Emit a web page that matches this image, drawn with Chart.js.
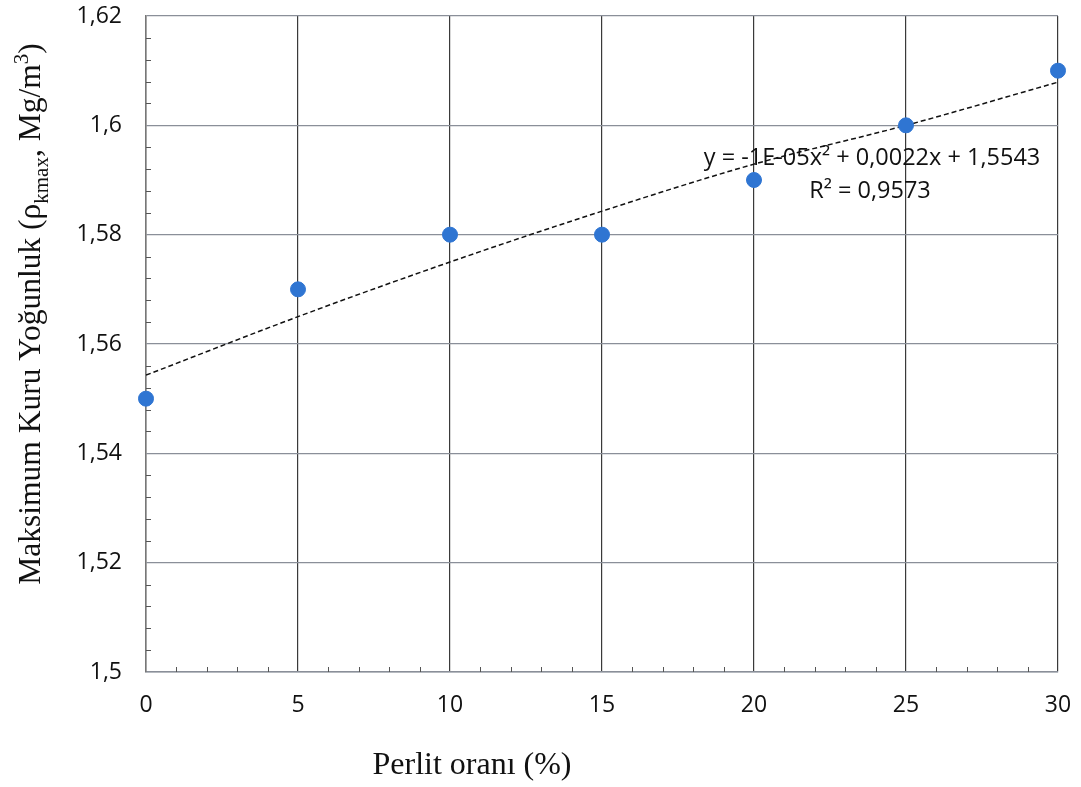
<!DOCTYPE html>
<html>
<head>
<meta charset="utf-8">
<script src="https://cdn.jsdelivr.net/npm/chart.js@4/dist/chart.umd.min.js"></script>
<style>
html,body{margin:0;padding:0;background:#fff;}
#wrap{width:1081px;height:787px;position:relative;}
</style>
</head>
<body>
<div id="wrap"><canvas id="c" width="1081" height="787"></canvas></div>
<script>
// ---- data ----
const perlitRatio = [0, 5, 10, 15, 20, 25, 30];
const maxDryDensity = [1.55, 1.57, 1.58, 1.58, 1.59, 1.60, 1.61];
// trendline values
const trendX = [0, 5, 10, 15, 20, 25, 30];
const trendY = [1.5543, 1.565, 1.575, 1.5843, 1.5929, 1.600, 1.6079];
const yTickLabels = ['1,5', '1,52', '1,54', '1,56', '1,58', '1,6', '1,62'];
const xTickLabels = ['0', '5', '10', '15', '20', '25', '30'];
const equationText = 'y = -1E-05x² + 0,0022x + 1,5543';
const r2Text = 'R² = 0,9573';
const xTitle = 'Perlit oranı (%)';

const tickFont = {family: "'Open Sans', 'Liberation Sans', sans-serif", size: 23};

const overlayPlugin = {
  id: 'overlay',
  afterDatasetsDraw(chart) {
    const ctx = chart.ctx;
    const xs = chart.scales.x, ys = chart.scales.y;
    const ca = chart.chartArea;
    ctx.save();
    // minor ticks (inward)
    ctx.strokeStyle = '#555';
    ctx.lineWidth = 1;
    ctx.beginPath();
    for (let v = 1; v < 30; v++) {
      if (v % 5 === 0) continue;
      const px = Math.round(xs.getPixelForValue(v)) + 0.5;
      ctx.moveTo(px, ca.bottom);
      ctx.lineTo(px, ca.bottom - 5);
    }
    for (let i = 1; i < 30; i++) {
      if (i % 5 === 0) continue;
      const py = Math.round(ys.getPixelForValue(1.5 + i * 0.004)) + 0.5;
      ctx.moveTo(ca.left, py);
      ctx.lineTo(ca.left + 5, py);
    }
    ctx.stroke();

    // trendline equation
    ctx.fillStyle = '#111';
    ctx.font = "23.5px 'Open Sans', 'Liberation Sans', sans-serif";
    ctx.textAlign = 'center';
    ctx.textBaseline = 'middle';
    ctx.fillText(equationText, 872, 158);
    ctx.fillText(r2Text, 870, 191);

    // x axis title
    ctx.font = "32px 'Liberation Serif', 'DejaVu Serif', serif";
    ctx.fillText(xTitle, 472, 766);

    // y axis title with sub/superscripts
    const parts = [
      {t: 'Maksimum Kuru Yoğunluk (ρ', s: 31.5, dy: 0},
      {t: 'kmax', s: 21, dy: 8},
      {t: ', Mg/m', s: 31.5, dy: 0},
      {t: '3', s: 21, dy: -12},
      {t: ')', s: 31.5, dy: 0}
    ];
    let total = 0;
    parts.forEach(p => {
      ctx.font = p.s + "px 'Liberation Serif', 'DejaVu Serif', serif";
      p.w = ctx.measureText(p.t).width;
      total += p.w;
    });
    ctx.translate(30, 314);
    ctx.rotate(-Math.PI / 2);
    ctx.textAlign = 'left';
    ctx.textBaseline = 'alphabetic';
    let x = -total / 2;
    parts.forEach(p => {
      ctx.font = p.s + "px 'Liberation Serif', 'DejaVu Serif', serif";
      ctx.fillText(p.t, x, 10 + p.dy);
      x += p.w;
    });
    ctx.restore();
  }
};

new Chart(document.getElementById('c'), {
  type: 'scatter',
  data: {
    datasets: [
      {
        label: 'Maksimum Kuru Yoğunluk',
        data: perlitRatio.map((x, i) => ({x: x, y: maxDryDensity[i]})),
        backgroundColor: '#2f75d2',
        borderColor: '#2f75d2',
        pointRadius: 7.5,
        pointHoverRadius: 7.5,
        clip: false,
        order: 1
      },
      {
        label: 'Trend',
        type: 'line',
        data: trendX.map((x, i) => ({x: x, y: trendY[i]})),
        borderColor: '#111',
        borderWidth: 1.5,
        borderDash: [5, 3],
        pointRadius: 0,
        fill: false,
        cubicInterpolationMode: 'monotone',
        order: 2
      }
    ]
  },
  options: {
    responsive: false,
    animation: false,
    events: [],
    layout: {padding: {left: 0, right: 23, top: 16, bottom: 0}},
    plugins: {legend: {display: false}, tooltip: {enabled: false}},
    scales: {
      x: {
        type: 'linear',
        min: 0, max: 30,
        afterFit(s) { s.height = 115; s.paddingLeft = 0; s.paddingRight = 0; },
        afterBuildTicks(s) { s.ticks = xTickLabels.map(v => ({value: Number(v)})); },
        ticks: {
          font: tickFont, color: '#111', padding: 20,
          callback: (v) => String(v)
        },
        grid: {color: '#3a3a3a', lineWidth: 1.2, drawTicks: false},
        border: {color: '#8a8f99', width: 1.5}
      },
      y: {
        type: 'linear',
        min: 1.5, max: 1.62,
        afterFit(s) { s.width = 146; s.paddingTop = 0; s.paddingBottom = 0; },
        afterBuildTicks(s) { s.ticks = yTickLabels.map((l, i) => ({value: 1.5 + i * 0.02})); },
        ticks: {
          font: tickFont, color: '#111', padding: 24,
          callback: (v, i) => yTickLabels[i]
        },
        grid: {color: '#8a8f99', lineWidth: 1.2, drawTicks: false},
        border: {color: '#777', width: 1.5}
      }
    }
  },
  plugins: [overlayPlugin]
});
</script>
</body>
</html>
